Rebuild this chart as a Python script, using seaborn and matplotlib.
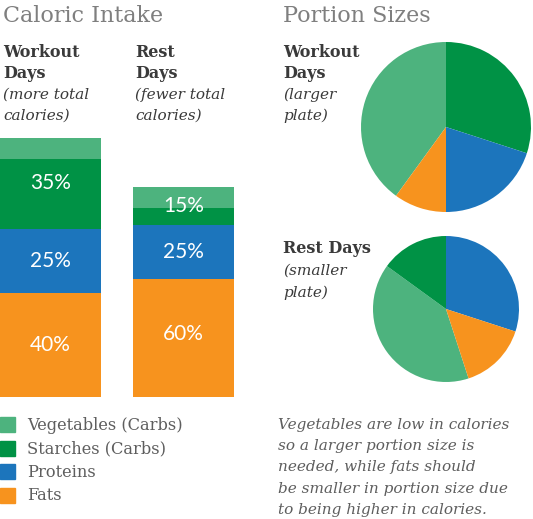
import seaborn as sns
import matplotlib
matplotlib.use("Agg")
import matplotlib.pyplot as plt
from matplotlib import patches
import numpy as np
import pandas as pd

# data
groups = ["Vegetables (Carbs)", "Starches (Carbs)", "Proteins", "Fats"]
colors = ["#4DB37E", "#009245", "#1C75BC", "#F7931E"]
days = ["Workout", "Rest"]

# calories per food group (workout day total = 100)
workout_cal = [8, 27, 25, 40]
rest_cal = [8, 6.5, 21, 45.5]
workout_pct = ["35%", "25%", "40%"]   # carbs, proteins, fats
rest_pct = ["15%", "25%", "60%"]

# portion sizes (share of plate)
workout_plate = [40, 30, 20, 10]
rest_plate = [40, 15, 30, 15]

note_lines = ["Vegetables are low in calories",
              "so a larger portion size is",
              "needed, while fats should",
              "be smaller in portion size due",
              "to being higher in calories."]

sns.set_theme(style="white")
plt.rcParams['font.family'] = ['DejaVu Serif']

W, H = 533, 519
fig = plt.figure(figsize=(W / 100, H / 100), dpi=100)


def fx(px):
    return px / W


def fy(py):
    return 1 - py / H


TITLE_C = "#7f7f7f"
HEAD_C = "#3a3a3a"
TEXT_C = "#5e5e5e"

# titles
fig.text(fx(3), fy(22), "Caloric Intake", fontsize=16, color=TITLE_C, va="baseline")
fig.text(fx(283), fy(22), "Portion Sizes", fontsize=16, color=TITLE_C, va="baseline")


def header(x, y0, bold_lines, ital_lines, step=21):
    y = y0
    for t in bold_lines:
        fig.text(fx(x), fy(y), t, fontsize=11.5, fontweight="bold", color=HEAD_C, va="baseline")
        y += step
    for t in ital_lines:
        fig.text(fx(x), fy(y), t, fontsize=11, style="italic", color=HEAD_C, va="baseline")
        y += step


header(3, 57, ["Workout", "Days"], ["(more total", "calories)"])
header(135, 57, ["Rest", "Days"], ["(fewer total", "calories)"])
header(283, 57, ["Workout", "Days"], ["(larger", "plate)"])
header(283, 253, ["Rest Days"], ["(smaller", "plate)"], step=22)

# stacked bars
ax = fig.add_axes([0, fy(397), fx(234), 259 / H])
df = pd.DataFrame({"Workout": workout_cal, "Rest": rest_cal}, index=groups)
# cumulative from the bottom (fats) up
cum = df.iloc[::-1].cumsum().iloc[::-1]
for g, c in zip(groups, colors):
    sns.barplot(x=days, y=cum.loc[g].values, color=c, saturation=1,
                width=0.76, linewidth=0, ax=ax)
ax.set_xlim(-0.38, 1.38)
ax.set_ylim(0, 100)
ax.axis("off")

for i, (vals, labs) in enumerate([(workout_cal, workout_pct), (rest_cal, rest_pct)]):
    veg, sta, pro, fat = vals
    centers = [fat + pro + (veg + sta) / 2, fat + pro / 2, fat / 2 + 1.5 * i]
    for yc, lab in zip(centers, labs):
        ax.text(i, yc, lab, ha="center", va="center", color="white",
                fontsize=15, family="Lato")

# pies
def pie(cx, cy, r, vals, start):
    pax = fig.add_axes([fx(cx - r), fy(cy + r), 2 * r / W, 2 * r / H])
    pax.pie(vals, colors=colors, startangle=start, counterclock=False,
            wedgeprops=dict(linewidth=0))
    pax.set_xlim(-1, 1)
    pax.set_ylim(-1, 1)


pie(446, 127, 85, workout_plate, 234)
pie(446, 309, 73, rest_plate, 288)

# legend
for k, (g, c) in enumerate(zip(groups, colors)):
    top = 417 + k * 23.5
    fig.patches.append(patches.Rectangle((fx(0), fy(top + 15)), 15 / W, 15 / H,
                                         color=c, transform=fig.transFigure))
    fig.text(fx(27), fy(430 + k * 23.3), g, fontsize=11.7, color=TEXT_C, va="baseline")

# note
for k, line in enumerate(note_lines):
    fig.text(fx(278), fy(429 + k * 21.2), line, fontsize=11, style="italic",
             color=TEXT_C, va="baseline")

plt.savefig("out.png", dpi=100)
